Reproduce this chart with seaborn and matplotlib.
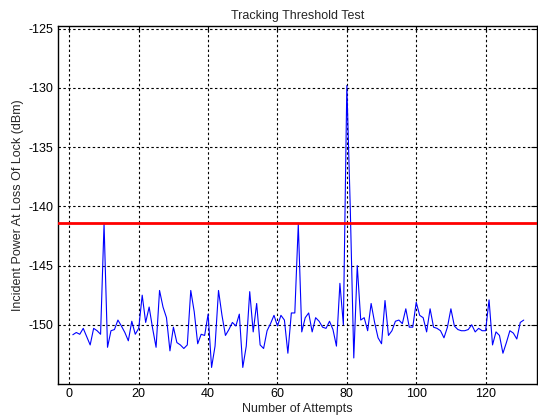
import matplotlib
matplotlib.use("Agg")
import matplotlib.pyplot as plt
import seaborn as sns
import pandas as pd

# ---- data -------------------------------------------------------------
attempts = list(range(1, 132))
power_dbm = [
    -150.84, -150.65, -150.8, -150.3, -151.0, -151.7, -150.3, -150.5, -150.8, -141.45,   # 1-10
    -151.9, -150.5, -150.4, -149.6, -150.1, -150.65, -151.35, -149.7, -150.8, -150.3,    # 11-20
    -147.5, -149.8, -148.5, -150.3, -151.9, -147.1, -148.5, -149.4, -152.2, -150.2,      # 21-30
    -151.5, -151.7, -152.0, -151.7, -147.1, -148.9, -151.6, -150.8, -150.9, -149.1,      # 31-40
    -153.6, -151.8, -147.1, -149.2, -150.9, -150.4, -149.8, -150.1, -149.1, -153.6,      # 41-50
    -151.8, -147.2, -150.6, -148.2, -151.7, -152.0, -150.5, -149.9, -149.2, -150.1,      # 51-60
    -149.2, -149.6, -152.4, -149.0, -149.0, -141.5, -150.6, -149.4, -149.0, -150.6,      # 61-70
    -149.4, -149.7, -150.2, -150.3, -149.7, -150.4, -151.8, -146.5, -150.0, -129.8,      # 71-80
    -140.3, -152.8, -145.0, -149.6, -149.4, -150.5, -148.2, -149.8, -151.1, -151.6,      # 81-90
    -147.95, -150.9, -150.5, -149.7, -149.6, -149.9, -148.65, -150.2, -150.2, -148.1,    # 91-100
    -149.2, -149.4, -150.6, -148.65, -150.2, -150.3, -150.5, -151.1, -150.2, -148.65,    # 101-110
    -150.1, -150.4, -150.5, -150.5, -150.4, -150.0, -150.6, -150.3, -150.5, -150.5,      # 111-120
    -147.9, -151.7, -150.6, -150.9, -152.4, -151.5, -150.5, -150.7, -151.2, -149.8,      # 121-130
    -149.6,                                                                              # 131
]
threshold_dbm = -141.4
x_ticks = [0, 20, 40, 60, 80, 100, 120]
y_ticks = [-150, -145, -140, -135, -130, -125]

df = pd.DataFrame({"Attempt": attempts, "Power": power_dbm})

# ---- style ------------------------------------------------------------
sns.set_style("white")
plt.rcParams["font.family"] = ["Liberation Sans", "DejaVu Sans"]
plt.rcParams["font.size"] = 9
plt.rcParams["axes.unicode_minus"] = False

fig = plt.figure(figsize=(5.38, 4.19), dpi=100)
ax = fig.add_axes([0.107, 0.0835, 0.891, 0.855])

sns.lineplot(data=df, x="Attempt", y="Power", ax=ax, color=(0, 0, 1),
             linewidth=0.8, estimator=None, sort=False, zorder=3)
ax.axhline(threshold_dbm, color=(1, 0, 0), linewidth=2.0, zorder=4)

ax.set_xlim(-3.4, 134.8)
ax.set_ylim(-155.0, -124.75)
ax.set_xticks(x_ticks)
ax.set_yticks(y_ticks)

ax.grid(True, color="black", linestyle=(0, (2.2, 2.2)), linewidth=0.8, zorder=1)
for s in ax.spines.values():
    s.set_color("black")
    s.set_linewidth(1.0)
ax.tick_params(direction="in", length=4, width=0.8, top=True, right=True,
               labelsize=9, colors="black", pad=3)

ax.set_title("Tracking Threshold Test", fontsize=9, pad=5)
ax.set_xlabel("Number of Attempts", fontsize=9, labelpad=2)
ax.set_ylabel("Incident Power At Loss Of Lock (dBm)", fontsize=9, labelpad=3)

fig.savefig("out.png", dpi=100)
